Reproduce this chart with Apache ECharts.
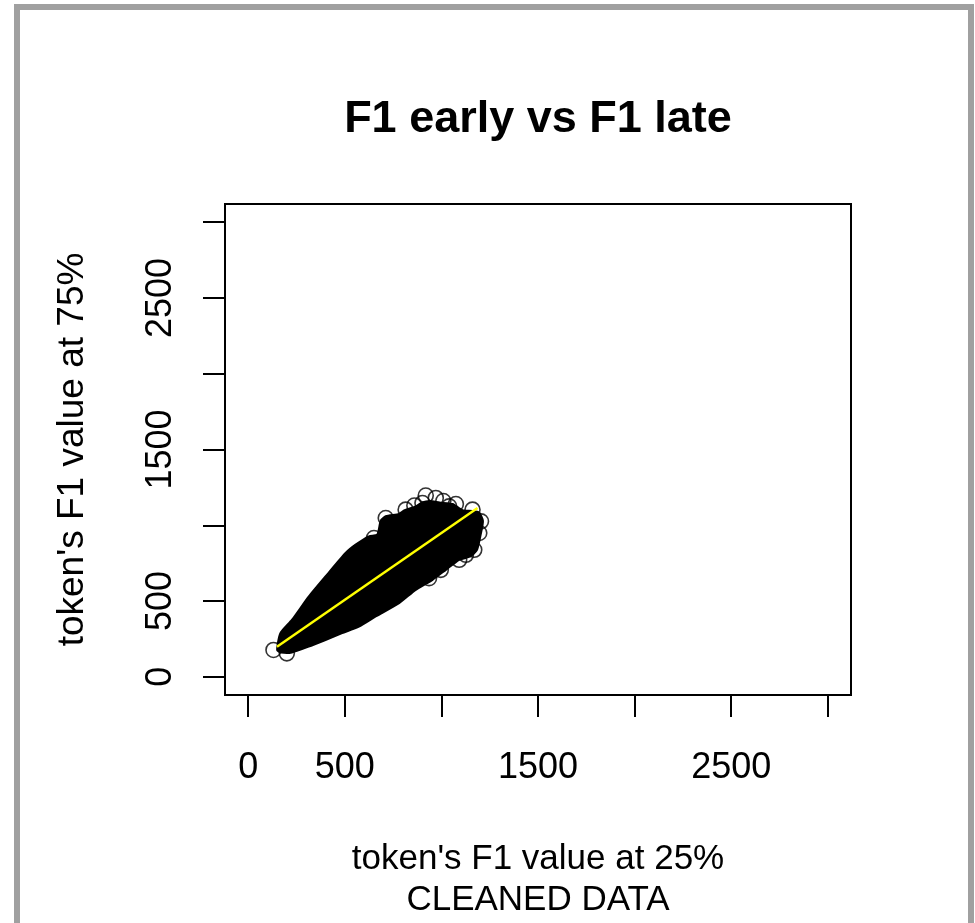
<!DOCTYPE html>
<html>
<head>
<meta charset="utf-8">
<script src="https://cdn.jsdelivr.net/npm/echarts@6/dist/echarts.min.js"></script>
<style>
html,body{margin:0;padding:0;background:#fff;}
#chart{width:975px;height:923px;}
</style>
</head>
<body>
<div id="chart"></div>
<script>
// ---- data ----
const titleText = "F1 early vs F1 late";
const xAxisTitle = "token's F1 value at 25%\nCLEANED DATA";
const yAxisTitle = "token's F1 value at 75%";
const xTicks = [0, 500, 1000, 1500, 2000, 2500, 3000];
const xTickLabels = [0, 500, 1500, 2500];
const yTicks = [0, 500, 1000, 1500, 2000, 2500, 3000];
const yTickLabels = [0, 500, 1500, 2500];

// outline of the solid mass of overlapping points (x = F1 at 25%, y = F1 at 75%)
const denseCloudOutline = [
  [150,175],[166,287],[226,375],[313,529],[400,662],[504,817],[556,872],
  [625,927],[668,938],[686,1030],[712,1060],[781,1075],[810,1100],[867,1125],
  [900,1150],[940,1160],[990,1150],[1058,1140],[1109,1100],[1161,1095],[1195,1085],
  [1215,1030],[1205,949],[1185,840],[1150,794],[1092,772],[1023,706],[954,640],
  [867,574],[781,486],[660,398],[573,331],[486,288],[400,243],[313,199],[226,160],[170,160]
];

// individually visible points at the edge of the cloud
const edgePoints = [
  [131,177],[200,155],[919,1196],[971,1180],[902,1147],[815,1103],[712,1048],
  [651,916],[1040,1125],[1161,1103],[1205,1026],[1196,949],[1170,838],[1127,805],
  [997,706],[936,651],[1092,1004],[1092,772],[1010,1160],[1075,1140],[860,1130]
];

// fitted line
const fitLine = [[149,199],[1187,1114]];

// ---- chart ----
const FONT = "'Liberation Sans', Arial, sans-serif";
const plain = function (v) { return String(v); };
const chart = echarts.init(document.getElementById('chart'), null, {renderer:'canvas'});
chart.setOption({
  backgroundColor: '#fff',
  animation: false,
  title: {
    text: titleText,
    left: 533, top: 92, textAlign: 'center',
    textStyle: {fontFamily: FONT, fontSize: 45, fontWeight: 'bold', color: '#000'}
  },
  graphic: [{
    type: 'rect', silent: true,
    shape: {x: 17, y: 7, width: 954, height: 940},
    style: {fill: 'none', stroke: '#a0a0a0', lineWidth: 6}
  }],
  grid: {
    left: 225, top: 204, width: 626, height: 491,
    outerBoundsMode: 'none', containLabel: false,
    show: true, borderColor: '#000', borderWidth: 2, backgroundColor: 'transparent'
  },
  xAxis: {
    type: 'value', min: -120, max: 3120,
    name: xAxisTitle, nameLocation: 'middle', nameGap: 144,
    nameTextStyle: {fontFamily: FONT, fontSize: 35, color: '#000', lineHeight: 41},
    axisLine: {show: true, onZero: false, lineStyle: {color: '#000', width: 2}},
    axisTick: {show: true, inside: false, length: 22, customValues: xTicks, lineStyle: {color: '#000', width: 2}},
    axisLabel: {customValues: xTickLabels, formatter: plain, margin: 55, fontFamily: FONT, fontSize: 36, color: '#000'},
    splitLine: {show: false}
  },
  yAxis: {
    type: 'value', min: -120, max: 3120,
    name: yAxisTitle, nameLocation: 'middle', nameGap: 134, nameRotate: 90,
    nameTextStyle: {fontFamily: FONT, fontSize: 37, color: '#000'},
    axisLine: {show: true, onZero: false, lineStyle: {color: '#000', width: 2}},
    axisTick: {show: true, inside: false, length: 22, customValues: yTicks, lineStyle: {color: '#000', width: 2}},
    axisLabel: {customValues: yTickLabels, formatter: plain, rotate: 90, margin: 46, fontFamily: FONT, fontSize: 36, color: '#000'},
    splitLine: {show: false}
  },
  series: [
    {
      type: 'custom', silent: true, z: 1,
      data: denseCloudOutline,
      encode: {x: 0, y: 1},
      renderItem: function (params, api) {
        if (params.dataIndex !== 0) return null;
        const pts = denseCloudOutline.map(function (p) { return api.coord(p); });
        return {type: 'polygon', shape: {points: pts, smooth: 0.2}, style: {fill: '#000', stroke: '#000', lineWidth: 2}};
      }
    },
    {
      type: 'scatter', z: 2, silent: true,
      data: edgePoints,
      symbol: 'circle', symbolSize: 15,
      itemStyle: {color: 'rgba(0,0,0,0)', borderColor: '#000', borderWidth: 1.6}
    },
    {
      type: 'line', z: 3, silent: true,
      data: fitLine, showSymbol: false, symbol: 'none',
      lineStyle: {color: '#ffff00', width: 2.5}
    }
  ]
});
</script>
</body>
</html>
